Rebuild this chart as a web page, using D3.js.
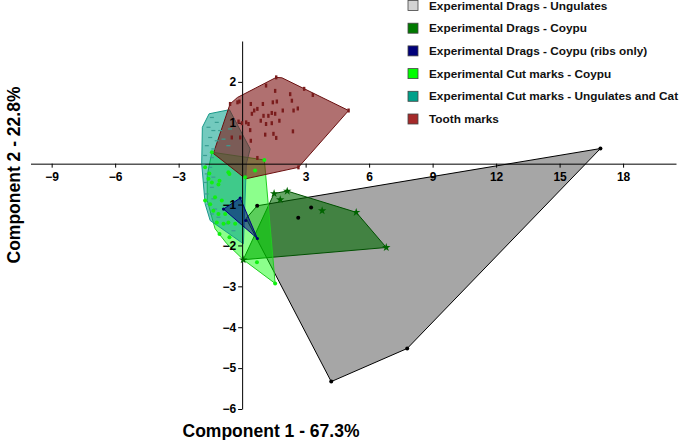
<!DOCTYPE html>
<html>
<head>
<meta charset="utf-8">
<script src="https://cdn.jsdelivr.net/npm/d3@7"></script>
<style>
  body { margin: 0; background: #fff; }
  text { font-family: 'Liberation Sans', Arial, sans-serif; }
</style>
</head>
<body>
<svg id="chart"></svg>
<script>
const width = 685
const height = 440

// --------------------------------------------------------------
// Data (PCA scores)

const groups = [
  'Experimental Drags - Ungulates',
  'Experimental Drags - Coypu',
  'Experimental Drags - Coypu (ribs only)',
  'Experimental Cut marks - Coypu',
  'Experimental Cut marks - Ungulates and Cat',
  'Tooth marks',
]
const colors = ['#d3d3d3', '#007a00', '#00007a', '#00ff00', '#00a08a', '#a52a2a']

const xTicks = [-9, -6, -3, 3, 6, 9, 12, 15, 18]
const yTicks = [2, 1, -1, -2, -3, -4, -5, -6]

// hulls: [PC1, PC2]
const hullDragUng = [[0.71, -1.03], [16.93, 0.37], [7.8, -4.52], [4.21, -5.33], [0.19, -1.34]]
const ptsDragUng = [[0.71, -1.03], [16.93, 0.37], [7.8, -4.52], [4.21, -5.33], [3.26, -1.07], [2.65, -1.32]]

const hullDragCoypu = [[1.51, -0.73], [2.13, -0.67], [5.39, -1.19], [6.81, -2.05], [0.05, -2.35]]
const ptsDragCoypu = [[1.51, -0.73], [2.13, -0.67], [5.39, -1.19], [6.81, -2.05], [0.05, -2.35], [3.78, -1.15], [1.8, -0.88]]

const hullRibs = [[-0.88, -1.11], [-0.09, -0.84], [0.72, -1.83]]
const ptsRibs = [[-0.88, -1.11], [-0.09, -0.84], [0.72, -1.83], [0.17, -1.39]]

const hullCutCoypu = [[-1.43, 0.28], [1.05, 0.09], [1.56, -2.93], [0.06, -2.35], [-0.72, -1.96], [-1.28, -1.59], [-1.65, -0.9], [-1.65, -0.29]]
const ptsCutCoypu = [
  [-1.59, -0.37], [-1.43, -0.46], [-1.12, -0.51], [-0.65, -0.21], [0.14, -0.33], [0.61, -0.17],
  [-1.75, -0.9], [-1.51, -0.99], [-1.28, -0.82], [-0.96, -0.9], [-1.36, -1.15], [-1.12, -1.23],
  [-0.8, -1.23], [-1.2, -1.44], [-0.88, -1.47], [-0.65, -1.44], [-0.33, -1.47], [-1.07, -1.72],
  [-0.6, -1.8], [0.7, -2.41], [-1.75, -0.09], [-1.55, -0.24], [-1.07, -0.42], [-0.6, -0.25],
  [1.05, 0.09], [1.56, -2.93], [-1.43, 0.28],
]

const hullCutUng = [[-1.56, 1.22], [-0.6, 1.32], [0.38, 0.36], [0.2, 0.0], [0.06, -1.96], [-1.51, -1.39], [-1.75, -0.98], [-1.91, 0.0], [-1.88, 0.89]]
const ptsCutUng = [
  [-1.43, 1.13], [-1.2, 1.01], [-1.59, 0.89], [-1.36, 0.81], [-1.04, 0.81], [-1.51, 0.64],
  [-1.2, 0.56], [-0.88, 0.6], [-1.67, 0.44], [-1.36, 0.36], [-1.75, 0.2], [-1.43, 0.15],
  [-1.83, -0.01], [-1.51, -0.09], [-1.67, -0.25], [-1.36, -0.33], [-1.75, -0.46], [-1.43, -0.58],
  [-1.67, -0.74], [-1.36, -0.86], [-1.59, -0.99], [-1.28, -1.11], [-1.43, -1.23], [-1.12, -1.31],
  [-0.72, -1.47], [-0.41, -1.64], [-0.57, 0.85], [-0.65, 0.44],
]

const hullTooth = [[-0.57, 1.46], [-0.22, 1.62], [1.61, 2.11], [1.88, 2.1], [5.03, 1.3], [2.66, -0.09], [0.17, -0.37], [-1.36, 0.25]]
const ptsTooth = [
  [-0.13, 1.52], [1.13, 1.91], [1.56, 1.78], [2.27, 1.7], [2.93, 1.83], [3.34, 1.68],
  [0.41, 1.46], [0.98, 1.46], [1.45, 1.5], [1.64, 1.52], [0.57, 1.3], [0.72, 1.34],
  [0.46, 1.22], [1.4, 1.24], [1.92, 1.3], [2.35, 1.54], [2.43, 1.3], [2.63, 1.35],
  [0.19, 1.01], [0.88, 1.05], [1.01, 1.17], [1.24, 1.17], [1.56, 1.22], [1.76, 1.05],
  [0.38, 0.82], [1.13, 0.97], [1.4, 0.99], [1.09, 0.71], [1.48, 0.73], [1.61, 0.63],
  [2.4, 0.79], [0.41, 0.56], [-0.49, 0.64], [-0.09, 0.64], [-0.22, 1.5], [-0.17, 1.03],
  [-0.01, 0.99], [0.3, 0.97], [0.72, 0.14], [-0.57, 1.46], [1.61, 2.11], [5.03, 1.3], [2.66, -0.09],
]

// --------------------------------------------------------------
// Scales

const svg = d3.select('#chart').attr('width', width).attr('height', height)

const x = d3.scaleLinear().domain([-10, 20.5]).range([30.5, 676])
const y = d3.scaleLinear().domain([-6, 3]).range([409, 41])

const hullPath = d3
  .line()
  .x((d) => x(d[0]))
  .y((d) => y(d[1]))
  .curve(d3.curveLinearClosed)

// --------------------------------------------------------------
// Hulls

const layers = [
  { hull: hullDragUng, fill: '#808080', op: 0.7, stroke: '#000' },
  { hull: hullDragCoypu, fill: '#006a00', op: 0.6, stroke: '#005000' },
  { hull: hullCutCoypu, fill: '#00ff00', op: 0.45, stroke: '#22cc22' },
  { hull: hullCutUng, fill: '#009e88', op: 0.55, stroke: '#1a9a8a' },
  { hull: hullTooth, fill: '#801818', op: 0.62, stroke: '#6a1010' },
  { hull: hullRibs, fill: '#000080', op: 0.55, stroke: '#000080' },
]

svg
  .append('g')
  .selectAll('path')
  .data(layers)
  .join('path')
  .attr('d', (d) => hullPath(d.hull))
  .attr('fill', (d) => d.fill)
  .attr('fill-opacity', (d) => d.op)
  .attr('stroke', (d) => d.stroke)
  .attr('stroke-width', 1)

// --------------------------------------------------------------
// Axes (crossing at 0,0)

const axisFont = (g) =>
  g.selectAll('text').attr('font-size', '12px').attr('font-weight', 'bold').attr('fill', '#000')

svg
  .append('g')
  .attr('transform', `translate(0,${y(0)})`)
  .call(d3.axisBottom(x).tickValues(xTicks).tickSize(4).tickPadding(5).tickSizeOuter(0))
  .call(axisFont)
  .call((g) => g.selectAll('path, line').attr('stroke', '#000'))

svg
  .append('g')
  .attr('transform', `translate(${x(0)},0)`)
  .call(d3.axisLeft(y).tickValues(yTicks).tickSize(4).tickPadding(2).tickSizeOuter(0))
  .call(axisFont)
  .call((g) => g.selectAll('path, line').attr('stroke', '#000'))

// --------------------------------------------------------------
// Points

const gPts = svg.append('g')

gPts
  .selectAll('.tooth')
  .data(ptsTooth)
  .join('rect')
  .attr('x', (d) => x(d[0]) - 1.2)
  .attr('y', (d) => y(d[1]) - 2)
  .attr('width', 2.4)
  .attr('height', 4)
  .attr('fill', '#7a1c1c')

gPts
  .selectAll('.cutung')
  .data(ptsCutUng)
  .join('rect')
  .attr('x', (d) => x(d[0]) - 2)
  .attr('y', (d) => y(d[1]) - 0.6)
  .attr('width', 4)
  .attr('height', 1.2)
  .attr('fill', '#3a9e92')

gPts
  .selectAll('.cutcoypu')
  .data(ptsCutCoypu)
  .join('circle')
  .attr('cx', (d) => x(d[0]))
  .attr('cy', (d) => y(d[1]))
  .attr('r', 2)
  .attr('fill', '#11f011')

gPts
  .selectAll('.ribs')
  .data(ptsRibs)
  .join('circle')
  .attr('cx', (d) => x(d[0]))
  .attr('cy', (d) => y(d[1]))
  .attr('r', 1.6)
  .attr('fill', '#000066')

const star = d3.symbol().type(d3.symbolStar).size(22)
gPts
  .selectAll('.dragcoypu')
  .data(ptsDragCoypu)
  .join('path')
  .attr('transform', (d) => `translate(${x(d[0])},${y(d[1])})`)
  .attr('d', star)
  .attr('fill', '#006400')

gPts
  .selectAll('.dragung')
  .data(ptsDragUng)
  .join('circle')
  .attr('cx', (d) => x(d[0]))
  .attr('cy', (d) => y(d[1]))
  .attr('r', 2)
  .attr('fill', '#000')

// --------------------------------------------------------------
// Axis titles

svg
  .append('text')
  .attr('x', 271)
  .attr('y', 437)
  .attr('text-anchor', 'middle')
  .attr('font-size', '17.5px')
  .attr('font-weight', 'bold')
  .text('Component 1 - 67.3%')

svg
  .append('text')
  .attr('transform', 'translate(20,175) rotate(-90)')
  .attr('text-anchor', 'middle')
  .attr('font-size', '17.5px')
  .attr('font-weight', 'bold')
  .text('Component 2 - 22.8%')

// --------------------------------------------------------------
// Legend

const legend = svg
  .append('g')
  .selectAll('g')
  .data(groups)
  .join('g')
  .attr('transform', (d, i) => `translate(408,${5.5 + i * 22.7})`)

legend
  .append('rect')
  .attr('x', 0)
  .attr('y', -5)
  .attr('width', 10)
  .attr('height', 10)
  .attr('fill', (d, i) => colors[i])
  .attr('stroke', '#444')
  .attr('stroke-width', 0.8)

legend
  .append('text')
  .attr('x', 21)
  .attr('y', 0)
  .attr('dy', '0.35em')
  .attr('font-size', '11.8px')
  .attr('font-weight', 'bold')
  .attr('fill', '#111')
  .text((d) => d)
</script>
</body>
</html>
